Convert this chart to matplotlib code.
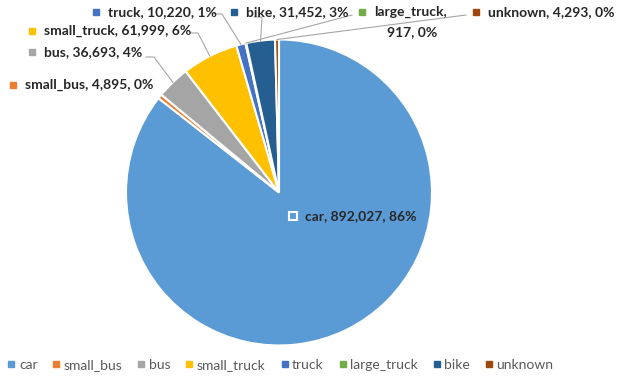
import matplotlib.pyplot as plt
from matplotlib.lines import Line2D
import numpy as np

categories = ['car', 'small_bus', 'bus', 'small_truck', 'truck', 'large_truck', 'bike', 'unknown']
counts = [892027, 4895, 36693, 61999, 10220, 917, 31452, 4293]
pcts = ['86%', '0%', '4%', '6%', '1%', '0%', '3%', '0%']
colors = ['#5B9BD5', '#ED7D31', '#A5A5A5', '#FFC000', '#4472C4', '#70AD47', '#255E91', '#9E480E']

W, H = 624, 382
fig = plt.figure(figsize=(W / 100, H / 100), dpi=100)
plt.rcParams['font.family'] = ['Lato', 'DejaVu Sans']

cx, cy, r = 279, 192.5, 153
ax = fig.add_axes([(cx - r) / W, (H - cy - r) / H, 2 * r / W, 2 * r / H])
wedges, _ = ax.pie(counts, colors=colors, startangle=90, counterclock=False,
                   wedgeprops=dict(edgecolor='white', linewidth=1.5))
ax.set_xlim(-1, 1)
ax.set_ylim(-1, 1)


def fx(px):
    return px / W


def fy(py):
    return 1 - py / H


# label placement in pixels: (marker x, y, elbow x, elbow y)
label_pos = {
    'car': (293, 216, None, None),
    'small_bus': (13, 85, None, None),
    'bus': (32, 52, 154, 57),
    'small_truck': (32, 31, 198, 33),
    'truck': (96, 12, 222, 14),
    'large_truck': (362, 12, 352, 15),
    'bike': (234, 12, 262, 17),
    'unknown': (476, 12, 466, 15),
}

fs = 10
for i, cat in enumerate(categories):
    mx, my, ex, ey = label_pos[cat]
    if cat == 'car':
        fig.add_artist(Line2D([fx(mx)], [fy(my)], marker='s', markersize=6,
                              markerfacecolor=colors[i], markeredgecolor='white',
                              markeredgewidth=1.5, transform=fig.transFigure))
    else:
        fig.add_artist(Line2D([fx(mx)], [fy(my)], marker='s', markersize=5,
                              color=colors[i], transform=fig.transFigure))
    if cat == 'large_truck':
        fig.text(fx(mx + 12), fy(my), f'{cat},', fontsize=fs, fontweight='bold',
                 color='#262626', ha='left', va='center')
        fig.text(fx(412), fy(my + 20), f'{counts[i]:,}, {pcts[i]}', fontsize=fs,
                 fontweight='bold', color='#262626', ha='center', va='center')
    else:
        fig.text(fx(mx + 12), fy(my), f'{cat}, {counts[i]:,}, {pcts[i]}',
                 fontsize=fs, fontweight='bold', color='#262626',
                 ha='left', va='center')
    if ex is not None:
        w = wedges[i]
        mid = np.deg2rad((w.theta1 + w.theta2) / 2)
        px = cx + r * np.cos(mid)
        py = cy - r * np.sin(mid)
        if cat in ('large_truck', 'unknown'):
            xs = [px, ex]
            ys = [py, ey]
        else:
            xs = [px, ex, ex - 8]
            ys = [py, ey, ey]
        fig.add_artist(Line2D([fx(v) for v in xs], [fy(v) for v in ys],
                              color='#A6A6A6', linewidth=0.8,
                              transform=fig.transFigure))

handles = [Line2D([], [], marker='s', linestyle='', markersize=5, color=c) for c in colors]
fig.legend(handles, categories, ncol=8, loc='center left',
           bbox_to_anchor=(-0.002, fy(365)), frameon=False, fontsize=10,
           labelcolor='#595959', handlelength=0.4, handletextpad=0.35,
           columnspacing=1.15, borderpad=0.2)

fig.savefig('out.png', dpi=100)
